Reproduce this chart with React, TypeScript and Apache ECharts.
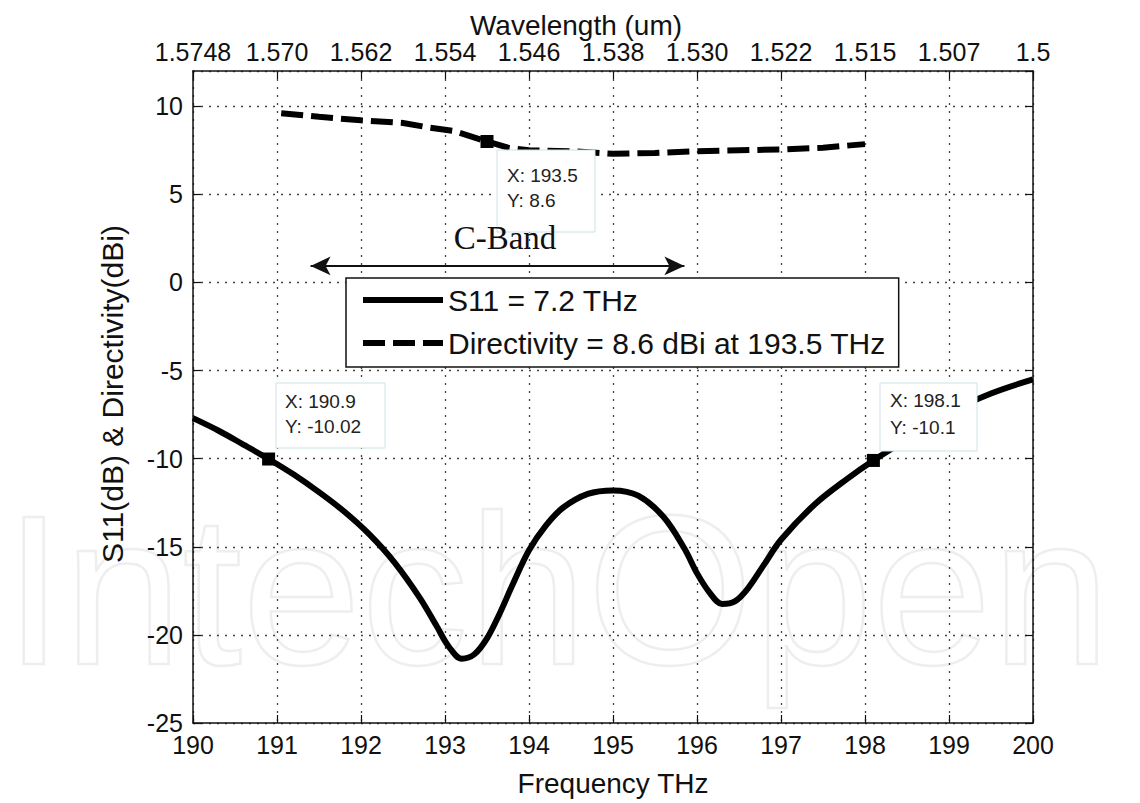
import React, { useEffect, useRef } from "react";
import * as echarts from "echarts";

// ---------- data ----------
const wavelengthLabels = ["1.5748", "1.570", "1.562", "1.554", "1.546", "1.538", "1.530", "1.522", "1.515", "1.507", "1.5"];

const s11Freq = [190, 190.3, 190.6, 190.9, 191.2, 191.5, 191.8, 192.1, 192.4, 192.7, 192.9, 193.05, 193.2, 193.35, 193.5, 193.65, 193.8, 194.0, 194.2, 194.4, 194.7, 195.0, 195.3, 195.6, 195.85, 196.0, 196.15, 196.3, 196.45, 196.6, 196.8, 197.0, 197.4, 197.8, 198.1, 198.5, 199.0, 199.5, 200];
const s11Values = [-7.7, -8.4, -9.2, -10.02, -10.9, -11.9, -13.0, -14.3, -15.9, -17.9, -19.5, -20.7, -21.35, -21.1, -20.2, -18.8, -17.2, -15.2, -13.8, -12.8, -12.0, -11.8, -12.1, -13.3, -15.1, -16.5, -17.6, -18.25, -18.1, -17.4, -16.0, -14.6, -12.6, -11.1, -10.1, -8.9, -7.4, -6.3, -5.5];

const dirFreq = [191.05, 191.5, 192.0, 192.5, 192.8, 193.1, 193.5, 193.75, 194.0, 194.5, 195.0, 195.5, 196.0, 196.5, 197.0, 197.5, 198.0];
const dirValues = [9.6, 9.4, 9.2, 9.05, 8.8, 8.6, 8.0, 7.65, 7.5, 7.45, 7.3, 7.35, 7.45, 7.5, 7.55, 7.65, 7.85];

const tipFreq = [190.9, 198.1, 193.5];
const tipValues = [-10.02, -10.1, 8.0];
const tipTexts = [["X: 190.9", "Y: -10.02"], ["X: 198.1", "Y: -10.1"], ["X: 193.5", "Y: 8.6"]];

const bandStart = 191.4;
const bandEnd = 195.85;
const bandLevel = 0.94;

const seriesNames = ["S11 = 7.2 THz", "Directivity = 8.6 dBi at 193.5 THz"];

const FONT = "'Liberation Sans', Arial, Helvetica, sans-serif";
const INK = "#111";

export default function App() {
  const ref = useRef<HTMLDivElement>(null);
  useEffect(() => {
    if (!ref.current) return;
    const chart = echarts.init(ref.current, undefined, { renderer: "svg" });
    const grid = { left: 193, top: 71, width: 840, height: 652 };
    const axisLineStyle = { show: true, onZero: false, lineStyle: { color: INK, width: 1.5 } };
    const tickStyle = { show: true, inside: true, length: 8, lineStyle: { color: INK, width: 1.2 } };
    const gridLine = { show: true, lineStyle: { color: "#444", width: 1.3, type: [2, 6] } };

    const tipBoxes = [
      { x: 276, y: 383, w: 109, h: 65 },
      { x: 880, y: 383, w: 97, h: 68 },
      { x: 497, y: 150, w: 98, h: 82 },
    ];
    const tipTextPos = [
      { x: 285, y1: 401, y2: 426 },
      { x: 890, y1: 400, y2: 427 },
      { x: 507, y1: 175, y2: 200 },
    ];
    const graphics: any[] = [
      {
        type: "text",
        x: 4,
        y: 482,
        z: -10,
        silent: true,
        style: {
          text: "IntechOpen",
          fontSize: 214,
          fontFamily: FONT,
          fill: "rgba(0,0,0,0)",
          stroke: "rgba(170,170,170,0.2)",
          lineWidth: 2.5,
          verticalAlign: "alphabetic",
        },
      },
      {
        type: "text",
        x: 576,
        y: 25,
        style: { text: "Wavelength (um)", fontSize: 28, fontFamily: FONT, fill: INK, align: "center", verticalAlign: "middle" },
      },
      {
        type: "text",
        x: 613,
        y: 783,
        style: { text: "Frequency THz", fontSize: 28, fontFamily: FONT, fill: INK, align: "center", verticalAlign: "middle" },
      },
      {
        type: "text",
        x: 112,
        y: 394,
        rotation: Math.PI / 2,
        style: { text: "S11(dB) & Directivity(dBi)", fontSize: 30, fontFamily: FONT, fill: INK, align: "center", verticalAlign: "middle" },
      },
      {
        type: "text",
        x: 505,
        y: 238,
        z: 10,
        style: { text: "C-Band", fontSize: 33, fontFamily: "'Liberation Serif', 'Times New Roman', serif", fill: INK, align: "center", verticalAlign: "middle" },
      },
    ];
    tipBoxes.forEach((b, i) => {
      graphics.push({
        type: "rect",
        z: 8,
        shape: { x: b.x, y: b.y, width: b.w, height: b.h },
        style: { fill: "#fff", stroke: "#cfe0e4", lineWidth: 1 },
      });
      graphics.push({
        type: "text",
        z: 9,
        x: tipTextPos[i].x,
        y: tipTextPos[i].y1,
        style: { text: tipTexts[i][0], fontSize: 19, fontFamily: FONT, fill: "#222", verticalAlign: "middle" },
      });
      graphics.push({
        type: "text",
        z: 9,
        x: tipTextPos[i].x,
        y: tipTextPos[i].y2,
        style: { text: tipTexts[i][1], fontSize: 19, fontFamily: FONT, fill: "#222", verticalAlign: "middle" },
      });
    });

    chart.setOption({
      animation: false,
      backgroundColor: "#fff",
      textStyle: { fontFamily: FONT },
      grid,
      legend: {
        data: seriesNames,
        orient: "vertical",
        left: 346,
        top: 278,
        padding: [7, 13, 9, 14],
        itemGap: 13,
        itemWidth: 80,
        itemHeight: 30,
        backgroundColor: "#fff",
        borderColor: INK,
        borderWidth: 1.5,
        borderRadius: 0,
        selectedMode: false,
        textStyle: { fontSize: 30, color: INK, fontFamily: FONT },
        lineStyle: { width: 6 },
        itemStyle: { opacity: 0 },
        z: 6,
      },
      xAxis: [
        {
          type: "value",
          position: "bottom",
          min: 190,
          max: 200,
          interval: 1,
          axisLine: axisLineStyle,
          axisTick: tickStyle,
          axisLabel: { fontSize: 25, color: INK, margin: 9, fontFamily: FONT },
          splitLine: gridLine,
        },
        {
          type: "value",
          position: "top",
          min: 190,
          max: 200,
          interval: 1,
          axisLine: axisLineStyle,
          axisTick: tickStyle,
          axisLabel: {
            fontSize: 25,
            color: INK,
            margin: 7,
            fontFamily: FONT,
            formatter: (v: number) => wavelengthLabels[Math.round(v - 190)] ?? "",
          },
          splitLine: { show: false },
        },
      ],
      yAxis: [
        {
          type: "value",
          position: "left",
          min: -25,
          max: 12,
          interval: 5,
          axisLine: axisLineStyle,
          axisTick: tickStyle,
          axisLabel: { fontSize: 25, color: INK, margin: 10, fontFamily: FONT, showMaxLabel: false },
          splitLine: gridLine,
        },
        {
          type: "value",
          position: "right",
          min: -25,
          max: 12,
          interval: 5,
          axisLine: axisLineStyle,
          axisTick: tickStyle,
          axisLabel: { show: false },
          splitLine: { show: false },
        },
      ],
      series: [
        {
          name: seriesNames[0],
          type: "line",
          data: s11Freq.map((f, i) => [f, s11Values[i]]),
          symbol: "none",
          smooth: 0.35,
          lineStyle: { color: "#000", width: 6 },
          itemStyle: { color: "#000" },
          z: 3,
        },
        {
          name: seriesNames[1],
          type: "line",
          data: dirFreq.map((f, i) => [f, dirValues[i]]),
          symbol: "none",
          lineStyle: { color: "#000", width: 6, type: [22, 8] },
          itemStyle: { color: "#000" },
          z: 3,
          markLine: {
            silent: true,
            symbol: ["arrow", "arrow"],
            symbolSize: [14, 20],
            label: { show: false },
            lineStyle: { color: INK, width: 2, type: "solid" },
            data: [[{ coord: [bandStart, bandLevel] }, { coord: [bandEnd, bandLevel] }]],
          },
        },
        {
          name: "tips",
          type: "scatter",
          data: tipFreq.map((f, i) => [f, tipValues[i]]),
          symbol: "rect",
          symbolSize: 13,
          itemStyle: { color: "#000", opacity: 1 },
          z: 4,
        },
      ],
      graphic: graphics,
    });
    return () => chart.dispose();
  }, []);
  return <div ref={ref} style={{ position: "fixed", left: 0, top: 0, width: 1140, height: 803 }} />;
}
